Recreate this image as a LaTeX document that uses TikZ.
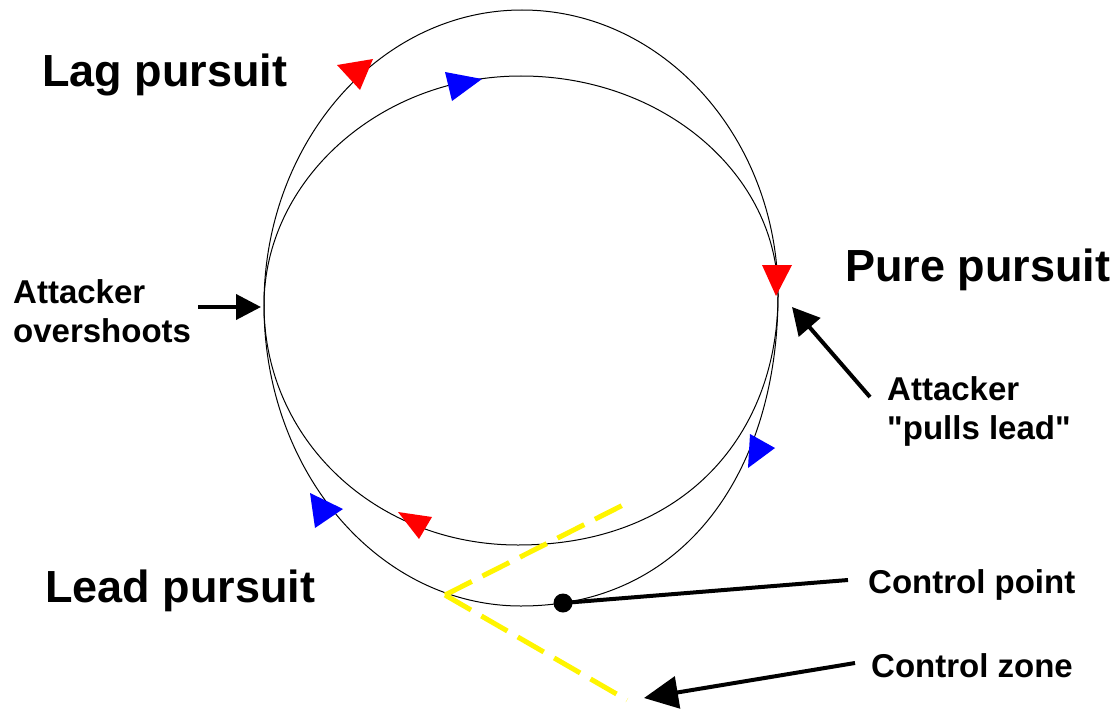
\documentclass[tikz,border=0pt]{standalone}
\usepackage{fontspec}
\setmainfont{Liberation Sans}
\newfontfamily\libsans{Liberation Sans}
\usetikzlibrary{arrows.meta}
\begin{document}
\begin{tikzpicture}[x=1pt,y=-1pt,
  track/.style={draw=black, line width=1pt},
  big/.style={font=\libsans\fontsize{45}{50}\selectfont\bfseries, inner sep=0pt, anchor=base west},
  lbl/.style={font=\libsans\fontsize{33}{39}\selectfont\bfseries, inner sep=0pt, anchor=base west},
  redtri/.style={fill={rgb,255:red,255;green,0;blue,0}},
  bluetri/.style={fill={rgb,255:red,0;green,0;blue,255}},
  pointer/.style={draw=black, line width=4pt},
  zone/.style={draw={rgb,255:red,255;green,245;blue,0}, line width=5pt, dash pattern=on 30pt off 12pt}
]
\useasboundingbox (0,0) rectangle (1111,709);
\fill[white] (0,0) rectangle (1111,709);

% key points of the tracks
\coordinate (L) at (264,305);
\coordinate (R) at (778,295);
\coordinate (T1) at (522,10);
\coordinate (T2) at (521,76);
\coordinate (B1) at (518,545);
\coordinate (B2) at (521,606);

% outer top (red)
\draw[track] (L) .. controls (264,142) and (380,10) .. (T1)
  .. controls (663,10) and (778,138) .. (R);
% inner top (blue)
\draw[track] (L) .. controls (264,181) and (379,76) .. (T2)
  .. controls (663,76) and (778,174) .. (R);
% inner bottom (red)
\draw[track] (L) .. controls (264,440) and (376,545) .. (B1)
  .. controls (686,545) and (778,433) .. (R);
% outer bottom (blue)
\draw[track] (L) .. controls (264,472) and (379,606) .. (B2)
  .. controls (688,606) and (778,467) .. (R);

% direction marks
\fill[redtri] (337,65) -- (373,59) -- (360,90) -- cycle;
\fill[bluetri] (445,72) -- (482,79) -- (452,101) -- cycle;
\fill[redtri] (762,265) -- (792,265) -- (776,296) -- cycle;
\fill[bluetri] (750,434) -- (775,448) -- (748,468) -- cycle;
\fill[redtri] (398,512) -- (432,517) -- (419,539) -- cycle;
\fill[bluetri] (310,493) -- (343,509) -- (315,528) -- cycle;

% control zone
\coordinate (zv) at (445,595);
\coordinate (zu) at (629,502);
\coordinate (zl) at (627,700);
\draw[zone] (zv) -- (zu);
\draw[zone] (zv) -- (zl);

% control point
\node[circle, fill=black, minimum size=19pt, inner sep=0pt] (cp) at (563,603) {};

% labels
\node[big] (lag) at (42,86) {Lag pursuit};
\node[big] (pure) at (845,281) {Pure pursuit};
\node[big] (lead) at (45,602) {Lead pursuit};

\node[lbl] (ov1) at (13,303) {Attacker};
\node[lbl] (ov2) at (13,342) {overshoots};
\node[lbl] (pl1) at (887,400) {Attacker};
\node[lbl] (pl2) at (887,439) {"pulls lead"};
\node[lbl] (cpt) at (868,593) {Control point};
\node[lbl] (czn) at (871,677) {Control zone};

% pointers
\coordinate (ovs) at (198,307);
\coordinate (ovt) at (261,307);
\draw[pointer, -{Triangle[length=25pt,width=25pt]}] (ovs) -- (ovt);

\coordinate (pls) at (870,397);
\coordinate (plt) at (792,307);
\draw[pointer, -{Triangle[length=27pt,width=28pt]}] (pls) -- (plt);

\coordinate (cps) at (848,580);
\draw[pointer] (cps) -- (cp.center);

\coordinate (czs) at (855,663);
\coordinate (czt) at (644,698);
\draw[pointer, -{Triangle[length=34pt,width=32pt]}] (czs) -- (czt);
\end{tikzpicture}
\end{document}
